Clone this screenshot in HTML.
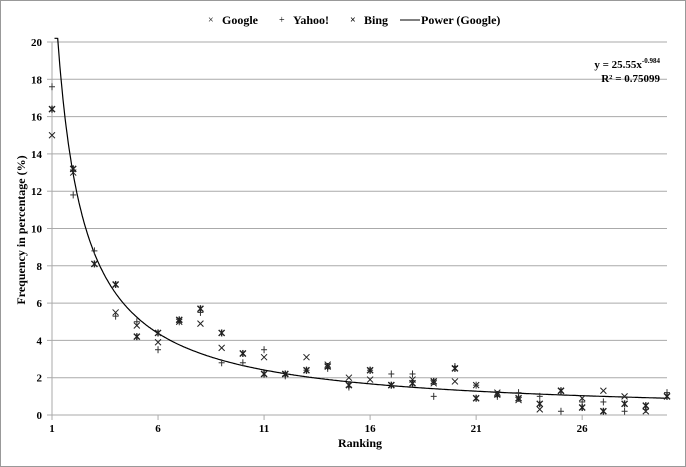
<!DOCTYPE html>
<html><head><meta charset="utf-8"><style>
html,body{margin:0;padding:0;background:#fff}
svg{display:block;font-family:"Liberation Serif",serif;font-weight:bold}
</style></head><body>
<svg id="chart" width="686" height="467" viewBox="0 0 686 467">
<rect x="0.5" y="0.5" width="685" height="466" fill="#fff" stroke="#999"/>
<g id="grid"></g>
<g id="axes"></g>
<path id="trend" fill="none" stroke="#000" stroke-width="1.2"/>
<g id="pts"></g>
<text transform="translate(25,230) rotate(-90)" text-anchor="middle" font-size="12">Frequency in percentage (%)</text>
<text x="360" y="447" text-anchor="middle" font-size="12">Ranking</text>
<text x="660" y="68" text-anchor="end" font-size="11">y = 25.55x<tspan font-size="7" dy="-5">-0.984</tspan></text>
<text x="660" y="82" text-anchor="end" font-size="11">R² = 0.75099</text>
<g font-size="12">
<text x="208" y="23" font-size="10" font-weight="normal">×</text>
<text x="222" y="24">Google</text>
<text x="279" y="23" font-size="10" font-weight="normal">+</text>
<text x="293" y="24">Yahoo!</text>
<text x="350" y="23" font-size="10">×</text>
<text x="364" y="24">Bing</text>
<line x1="400" y1="20" x2="420" y2="20" stroke="#000"/>
<text x="421" y="24">Power (Google)</text>
</g>
</svg>
<script>
const ranks=[1,2,3,4,5,6,7,8,9,10,11,12,13,14,15,16,17,18,19,20,21,22,23,24,25,26,27,28,29,30];
const google=[15.0,13.0,8.1,5.5,4.8,3.9,5.0,4.9,3.6,3.3,3.1,2.2,3.1,2.7,2.0,1.9,1.6,1.9,1.7,1.8,1.6,1.2,0.8,0.3,1.3,0.9,1.3,1.0,0.2,1.0];
const yahoo=[17.6,11.8,8.8,5.3,5.0,3.5,5.0,5.5,2.8,2.8,3.5,2.1,2.4,2.5,1.5,2.4,2.2,2.2,1.0,2.6,1.6,1.0,1.2,1.0,0.2,0.7,0.7,0.2,0.3,1.2];
const bing=[16.4,13.2,8.1,7.0,4.2,4.4,5.1,5.7,4.4,3.3,2.2,2.2,2.4,2.6,1.6,2.4,1.6,1.7,1.8,2.5,0.9,1.1,0.9,0.6,1.3,0.4,0.2,0.6,0.5,1.0];
const yTicks=[0,2,4,6,8,10,12,14,16,18,20];
const xTicks=[1,6,11,16,21,26];
const trendA=25.55, trendB=-0.984;
const NS="http://www.w3.org/2000/svg";
const X0=52,X1=667,Y0=415,Y1=42;
const xs=v=>X0+(v-1)*(X1-X0)/29;
const ys=v=>Y0-(v)*(Y0-Y1)/20;
function mk(t,a,p){const e=document.createElementNS(NS,t);for(const k in a)e.setAttribute(k,a[k]);p.appendChild(e);return e;}
const grid=document.getElementById('grid'),axes=document.getElementById('axes'),pts=document.getElementById('pts');
yTicks.forEach(v=>{
 const l=mk('line',{x1:X0,x2:X1,y1:ys(v),y2:ys(v),stroke:'#aaa','stroke-width':1},grid);
 
 
 const tk=mk('line',{x1:X0-5,x2:X0,y1:ys(v),y2:ys(v),stroke:'#aaa'},axes);
 
 
 const t=mk('text',{x:X0-10,y:ys(v)+4,'text-anchor':'end','font-size':11},axes);
 t.textContent=v;
 
 
});
const ya=mk('line',{x1:X0,x2:X0,y1:Y1,y2:Y0,stroke:'#aaa'},axes);


xTicks.forEach(v=>{
 const tk=mk('line',{x1:xs(v),x2:xs(v),y1:Y0,y2:Y0+5,stroke:'#aaa'},axes);
 
 
 const t=mk('text',{x:xs(v),y:Y0+17,'text-anchor':'middle','font-size':11},axes);
 t.textContent=v;
 
 
});
let d='';
for(let x=1.12;x<=30;x+=0.05){const y=trendA*Math.pow(x,trendB);d+=(d?'L':'M')+xs(x).toFixed(1)+','+ys(Math.min(y,20.2)).toFixed(1);}
document.getElementById('trend').setAttribute('d',d);
function marker(kind,cx,cy){
 const g=mk('g',{stroke:kind==='yahoo'?'#333':'#222','stroke-width':kind==='bing'?1.4:1},pts);
 const s=3;
 if(kind!=='yahoo'){mk('line',{x1:cx-s,y1:cy-s,x2:cx+s,y2:cy+s},g);mk('line',{x1:cx-s,y1:cy+s,x2:cx+s,y2:cy-s},g);}
 if(kind!=='google'){mk('line',{x1:cx,y1:cy-s-0.5,x2:cx,y2:cy+s+0.5},g);}
 if(kind==='yahoo'){mk('line',{x1:cx-s,y1:cy,x2:cx+s,y2:cy},g);}
 return g;
}
ranks.forEach((r,i)=>{
 const g1=marker('google',xs(r),ys(google[i]));
 
 
 const g2=marker('yahoo',xs(r),ys(yahoo[i]));
 
 
 const g3=marker('bing',xs(r),ys(bing[i]));
 
 
});
</script>
</body></html>
